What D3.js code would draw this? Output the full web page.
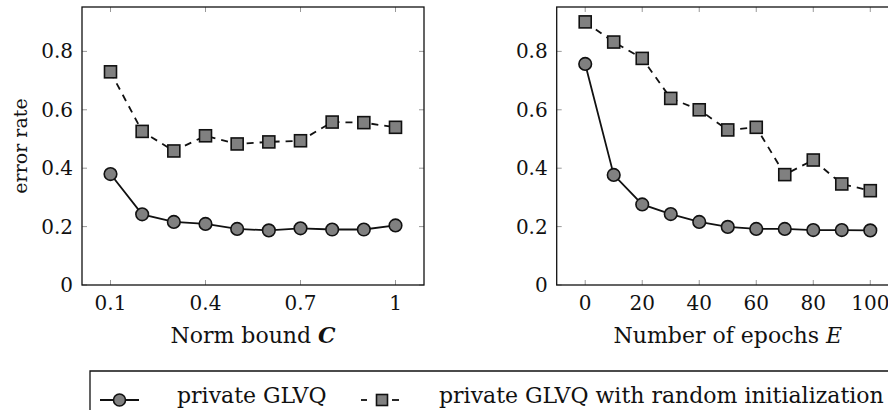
<!DOCTYPE html>
<html><head><meta charset="utf-8">
<script src="https://cdn.jsdelivr.net/npm/d3@7"></script>
<style>body{margin:0;background:#fff}svg{display:block}text{font-family:"DejaVu Serif",serif;fill:#111}</style>
</head><body>
<svg id="c" width="888" height="410"></svg>
<script>
const normBound = [0.1,0.2,0.3,0.4,0.5,0.6,0.7,0.8,0.9,1.0];
const normGLVQ = [0.380,0.242,0.216,0.209,0.192,0.187,0.194,0.190,0.190,0.204];
const normRandom = [0.730,0.526,0.459,0.511,0.483,0.490,0.494,0.558,0.556,0.540];
const epochs = [0,10,20,30,40,50,60,70,80,90,100];
const epochGLVQ = [0.757,0.377,0.276,0.243,0.216,0.199,0.192,0.192,0.188,0.188,0.187];
const epochRandom = [0.901,0.832,0.776,0.639,0.600,0.531,0.540,0.378,0.428,0.346,0.323];
const yTicks = [0,0.2,0.4,0.6,0.8];
const normTicks = [0.1,0.4,0.7,1];
const epochTicks = [0,20,40,60,80,100];
const seriesNames = ["private GLVQ","private GLVQ with random initialization"];

const svg = d3.select("#c");
const pTop=7, pBottom=285;
const y = d3.scaleLinear().domain([0,0.952]).range([pBottom,pTop]);
const fs = 20, fsT = 22;

function panel(x0,x1,dom,xs,s1,s2,ticks,title,titleItalic,bold){
  const x = d3.scaleLinear().domain(dom).range([x0,x1]);
  const g = svg.append("g");
  const tl=5;
  const tg = g.append("g").attr("stroke","#999").attr("stroke-width",1);
  ticks.forEach(t=>{
    tg.append("line").attr("x1",x(t)).attr("x2",x(t)).attr("y1",pBottom).attr("y2",pBottom-tl);
    tg.append("line").attr("x1",x(t)).attr("x2",x(t)).attr("y1",pTop).attr("y2",pTop+tl);
  });
  yTicks.forEach(t=>{
    tg.append("line").attr("x1",x0).attr("x2",x0+tl).attr("y1",y(t)).attr("y2",y(t));
    tg.append("line").attr("x1",x1).attr("x2",x1-tl).attr("y1",y(t)).attr("y2",y(t));
  });
  g.append("rect").attr("x",x0).attr("y",pTop).attr("width",x1-x0).attr("height",pBottom-pTop)
    .attr("fill","none").attr("stroke","#111").attr("stroke-width",1.3);
  ticks.forEach(t=>{
    g.append("text").attr("x",x(t)).attr("y",pBottom+25).attr("text-anchor","middle")
      .attr("font-size",fs).text(String(t));
  });
  yTicks.forEach(t=>{
    g.append("text").attr("x",x0-9).attr("y",y(t)+7).attr("text-anchor","end")
      .attr("font-size",fs).text(t===0?"0":d3.format(".1f")(t));
  });
  const tt = g.append("text").attr("x",(x0+x1)/2).attr("y",343).attr("text-anchor","middle").attr("font-size",fsT);
  tt.append("tspan").text(title);
  const v = tt.append("tspan").attr("font-style","italic").text(titleItalic);
  if(bold) v.attr("font-weight","bold");
  const line = d3.line().x((d,i)=>x(xs[i])).y(d=>y(d));
  g.append("path").attr("d",line(s2)).attr("fill","none").attr("stroke","#111").attr("stroke-width",1.8).attr("stroke-dasharray","7,6");
  g.append("path").attr("d",line(s1)).attr("fill","none").attr("stroke","#111").attr("stroke-width",1.8);
  g.selectAll(null).data(s2).enter().append("rect")
    .attr("x",(d,i)=>x(xs[i])-6).attr("y",d=>y(d)-6).attr("width",12).attr("height",12)
    .attr("fill","#808080").attr("stroke","#111").attr("stroke-width",1.6);
  g.selectAll(null).data(s1).enter().append("circle")
    .attr("cx",(d,i)=>x(xs[i])).attr("cy",d=>y(d)).attr("r",6.3)
    .attr("fill","#808080").attr("stroke","#111").attr("stroke-width",1.6);
}
panel(82,424,[0.01,1.09],normBound,normGLVQ,normRandom,normTicks,"Norm bound ","C",true);
panel(556.7,898.8,[-10,110],epochs,epochGLVQ,epochRandom,epochTicks,"Number of epochs ","E",false);

svg.append("text").attr("transform","translate(27,146) rotate(-90)").attr("text-anchor","middle")
  .attr("font-size",19).text("error rate");

const lg = svg.append("g");
lg.append("path").attr("d","M90,412 V371 H900").attr("fill","none").attr("stroke","#111").attr("stroke-width",1.3);
const ly=400;
lg.append("line").attr("x1",100).attr("x2",139).attr("y1",ly).attr("y2",ly).attr("stroke","#111").attr("stroke-width",1.8);
lg.append("circle").attr("cx",119.5).attr("cy",ly).attr("r",6).attr("fill","#808080").attr("stroke","#111").attr("stroke-width",1.6);
lg.append("text").attr("x",177).attr("y",403).attr("font-size",fsT).text(seriesNames[0]);
lg.append("line").attr("x1",361).attr("x2",367).attr("y1",ly).attr("y2",ly).attr("stroke","#111").attr("stroke-width",1.8);
lg.append("line").attr("x1",392).attr("x2",399).attr("y1",ly).attr("y2",ly).attr("stroke","#111").attr("stroke-width",1.8);
lg.append("rect").attr("x",376.5).attr("y",ly-5.5).attr("width",11).attr("height",11).attr("fill","#808080").attr("stroke","#111").attr("stroke-width",1.6);
lg.append("text").attr("x",439).attr("y",403).attr("font-size",fsT).text(seriesNames[1]);
</script>
</body></html>
